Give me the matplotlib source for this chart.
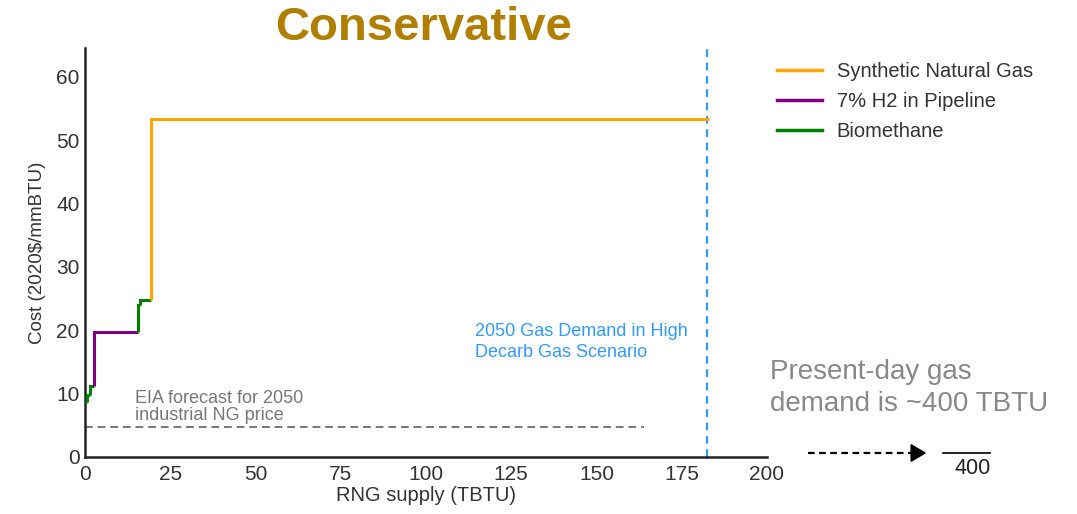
import matplotlib
matplotlib.use("Agg")
import matplotlib.pyplot as plt
from matplotlib.lines import Line2D
from matplotlib.patches import Polygon

plt.rcParams['font.family'] = ['Liberation Sans', 'DejaVu Sans']

# Supply tranches in merit order: (resource, quantity in TBTU, cost in 2020$/mmBTU)
tranche_resource = ["Biomethane", "Biomethane", "Biomethane",
                    "7% H2 in Pipeline",
                    "Biomethane", "Biomethane",
                    "Synthetic Natural Gas"]
tranche_quantity = [0.6, 0.7, 1.2, 13.0, 0.5, 3.3, 163.7]
tranche_cost = [8.7, 9.8, 11.2, 19.8, 24.0, 24.7, 53.3]

resource_colors = {
    "Synthetic Natural Gas": "#FFA500",
    "7% H2 in Pipeline": "#800080",
    "Biomethane": "#008000",
}
legend_order = ["Synthetic Natural Gas", "7% H2 in Pipeline", "Biomethane"]

eia_price = 4.7          # EIA 2050 industrial NG price forecast
eia_extent = 164         # TBTU span of the reference line
demand_2050 = 182.5      # high-decarb gas scenario demand, TBTU
present_demand = 400     # TBTU

x_ticks = [0, 25, 50, 75, 100, 125, 150, 175, 200]
y_ticks = [0, 10, 20, 30, 40, 50, 60]

fig = plt.figure(figsize=(10.77, 5.14), dpi=100)
ax = fig.add_axes([0.079, 0.111, 0.633, 0.795])

# supply curve: each tranche rises from the previous cost, then runs flat
x0 = 0.0
prev_cost = tranche_cost[0]
for res, q, c in zip(tranche_resource, tranche_quantity, tranche_cost):
    ax.plot([x0, x0, x0 + q], [prev_cost, c, c], color=resource_colors[res],
            lw=2.2, solid_joinstyle="miter", solid_capstyle="butt", zorder=3)
    x0 += q
    prev_cost = c

ax.plot([0, eia_extent], [eia_price, eia_price], color="#777777", lw=1.4,
        ls=(0, (4, 2.5)))
ax.text(14.5, eia_price + 0.45, "EIA forecast for 2050\nindustrial NG price",
        color="#777777", fontsize=13, ha="left", va="bottom", linespacing=1.0)

ax.axvline(demand_2050, color="#3399FF", lw=1.6, ls=(0, (3.5, 2.5)))
ax.text(114.5, 15.2, "2050 Gas Demand in High\nDecarb Gas Scenario",
        color="#3399FF", fontsize=13, ha="left", va="bottom", linespacing=1.25)

ax.set_xlim(0, 200)
ax.set_ylim(0, 64.5)
ax.set_xticks(x_ticks)
ax.set_yticks(y_ticks)
ax.tick_params(labelsize=15, length=0, pad=4, colors="#333333")
ax.tick_params(axis="x", pad=6)
for s in ["top", "right"]:
    ax.spines[s].set_visible(False)
for s in ["left", "bottom"]:
    ax.spines[s].set_color("#222222")
    ax.spines[s].set_linewidth(1.8)
ax.set_xlabel("RNG supply (TBTU)", fontsize=14.5, color="#333333", labelpad=1)
ax.set_ylabel("Cost (2020$/mmBTU)", fontsize=13.5, color="#333333", labelpad=7)

handles = [Line2D([], [], color=resource_colors[r], lw=2.5) for r in legend_order]
fig.legend(handles, legend_order, loc="upper left", bbox_to_anchor=(0.705, 0.915),
           frameon=False, fontsize=14.5, handlelength=2.2, handletextpad=0.75,
           labelspacing=0.55, labelcolor="#333333")

fig.text(0.393, 0.945, "Conservative", color="#B07F00", fontsize=34,
         fontweight="bold", ha="center", va="center")

fig.text(0.715, 0.245, "Present-day gas\ndemand is ~%d TBTU" % present_demand,
         color="#888888", fontsize=20, ha="left", va="center", linespacing=1.3)

# off-axis pointer toward present-day demand
y_arrow = 1 - 453 / 514
fig.lines.append(Line2D([0.750, 0.848], [y_arrow, y_arrow], transform=fig.transFigure,
                        color="black", lw=1.6, ls=(0, (3, 2))))
fig.patches.append(Polygon([[0.846, y_arrow + 0.016], [0.859, y_arrow],
                            [0.846, y_arrow - 0.016]], closed=True,
                           transform=fig.transFigure, color="black"))
fig.lines.append(Line2D([0.876, 0.919], [y_arrow, y_arrow], transform=fig.transFigure,
                        color="black", lw=1.2))
fig.text(0.903, 0.089, str(present_demand), fontsize=15.5, color="#222222",
         ha="center", va="center")

fig.savefig("out.png", dpi=100, facecolor="white")
